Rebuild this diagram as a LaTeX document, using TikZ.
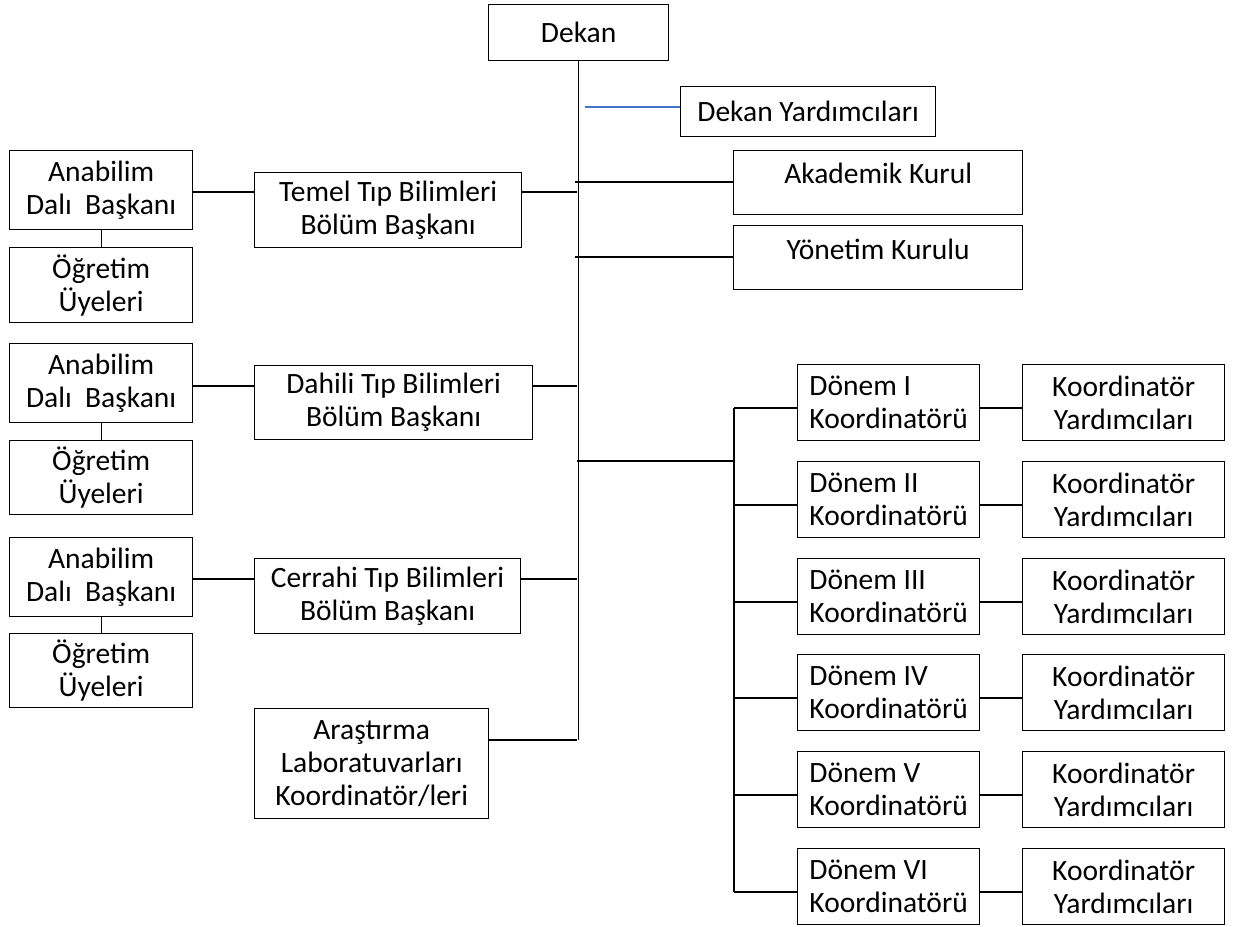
\documentclass[tikz,border=0pt]{standalone}
\usepackage{fontspec}
\setmainfont{Carlito}
\definecolor{conblue}{HTML}{4472C4}
\begin{document}
\begin{tikzpicture}[x=1pt,y=-1pt,
  box/.style={draw=black, line width=1.3pt, fill=white, inner sep=0pt, anchor=north west,
    align=center, font=\fontsize{29.5}{33}\selectfont},
  ln/.style={line width=1.1pt, draw=black},
  blueln/.style={line width=1.2pt, draw=conblue}]
\useasboundingbox (0,0) rectangle (1238,926);

% top
\node[box, minimum width=180pt, minimum height=56pt] (dekan) at (488,4) {Dekan};
\node[box, minimum width=255pt, minimum height=50pt] (dy) at (680,86) {Dekan Yardımcıları};
\node[box, minimum width=289pt, minimum height=64pt, text height=33pt, text depth=31pt] (ak) at (733,150) {Akademik Kurul};
\node[box, minimum width=289pt, minimum height=64pt, text height=34pt, text depth=30pt] (yk) at (733,225) {Yönetim Kurulu};

% left column
\node[box, minimum width=183pt, minimum height=79pt] (anab1) at (9,150) {Anabilim\\Dalı~ Başkanı};
\node[box, minimum width=183pt, minimum height=75pt] (og1) at (9,247) {Öğretim\\Üyeleri};
\node[box, minimum width=183pt, minimum height=79pt] (anab2) at (9,343) {Anabilim\\Dalı~ Başkanı};
\node[box, minimum width=183pt, minimum height=74pt] (og2) at (9,440) {Öğretim\\Üyeleri};
\node[box, minimum width=183pt, minimum height=79pt] (anab3) at (9,537) {Anabilim\\Dalı~ Başkanı};
\node[box, minimum width=183pt, minimum height=74pt] (og3) at (9,633) {Öğretim\\Üyeleri};

% departments
\node[box, minimum width=267pt, minimum height=75pt] (temel) at (254,172) {Temel Tıp Bilimleri\\Bölüm Başkanı};
\node[box, minimum width=278pt, minimum height=74pt] (dahili) at (254,365) {Dahili Tıp Bilimleri\\Bölüm Başkanı};
\node[box, minimum width=266pt, minimum height=75pt] (cerrahi) at (254,558) {Cerrahi Tıp Bilimleri\\Bölüm Başkanı};
\node[box, minimum width=234pt, minimum height=110pt] (arast) at (254,708) {Araştırma\\Laboratuvarları\\Koordinatör/leri};

% main spine
\coordinate (mbot) at (577,740);
\draw[ln] (dekan.south) -- (dekan.south |- mbot);
\coordinate (bl) at (585,107);
\draw[blueln] (bl) -- (bl -| dy.west);
\coordinate (mak) at (575,182);
\draw[ln] (mak) -- (mak -| ak.west);
\coordinate (myk) at (575,257);
\draw[ln] (myk) -- (myk -| yk.west);

% left connectors
\coordinate (m1) at (577,192);
\coordinate (m2) at (577,386);
\coordinate (m3) at (577,579);
\draw[ln] (anab1.south) -- (og1.north);
\draw[ln] (anab2.south) -- (og2.north);
\draw[ln] (anab3.south) -- (og3.north);
\draw[ln] (anab1.east |- m1) -- (m1 -| temel.west);
\draw[ln] (temel.east |- m1) -- (m1);
\draw[ln] (anab2.east |- m2) -- (m2 -| dahili.west);
\draw[ln] (dahili.east |- m2) -- (m2);
\draw[ln] (anab3.east |- m3) -- (m3 -| cerrahi.west);
\draw[ln] (cerrahi.east |- m3) -- (m3);
\draw[ln] (arast.east |- mbot) -- (mbot);

% Donem branch
\coordinate (mbr) at (577,461);
\coordinate (vtop) at (734,408);
\coordinate (vbot) at (734,892);
\draw[ln] (mbr) -- (mbr -| vtop);
\draw[ln] (vtop) -- (vbot);
\foreach \t/\r [count=\i] in {364/I,461/II,558/III,654/IV,751/V,848/VI} {
  \node[box, align=left, minimum width=182pt, minimum height=76pt] (d\i) at (797,\t) {Dönem \r\\Koordinatörü};
  \node[box, minimum width=202pt, minimum height=76pt] (k\i) at (1022,\t) {Koordinatör\\Yardımcıları};
  \coordinate (r\i) at (734,\t+44);
  \draw[ln] (r\i) -- (r\i -| d\i.west);
  \draw[ln] (d\i.east |- r\i) -- (r\i -| k\i.west);
}
\end{tikzpicture}
\end{document}
